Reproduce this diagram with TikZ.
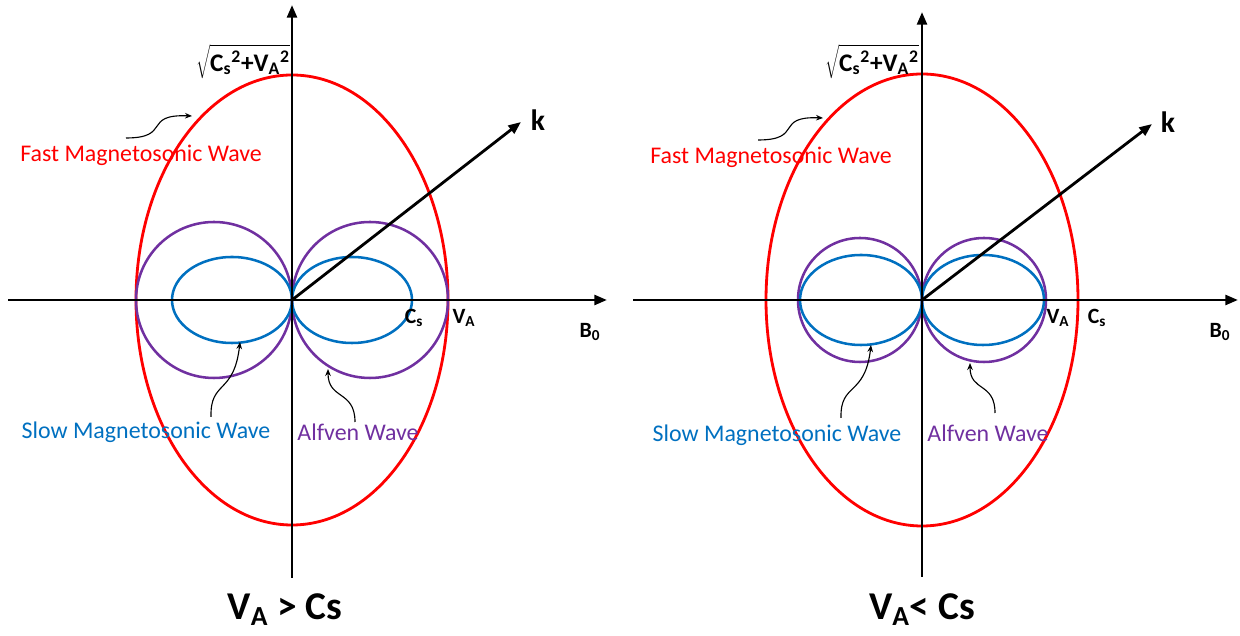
\documentclass[tikz,border=0pt]{standalone}
\usepackage{fontspec}
\setmainfont{Carlito}
\usetikzlibrary{arrows.meta}
\definecolor{fastred}{RGB}{255,0,0}
\definecolor{slowblue}{RGB}{0,112,192}
\definecolor{alfpurple}{RGB}{112,48,160}

\tikzset{
  axisline/.style={line width=2pt, -{Triangle[length=9pt,width=7pt]}},
  fastwave/.style={draw=fastred, line width=2pt},
  slowwave/.style={draw=slowblue, line width=1.8pt},
  alfwave/.style={draw=alfpurple, line width=1.8pt},
  pointer/.style={line width=0.8pt, -{Stealth[length=5pt,width=4pt]}},
  wavelbl/.style={font=\fontsize{17}{19}\selectfont, inner sep=0pt},
  ticklbl/.style={font=\bfseries\fontsize{15.5}{17}\selectfont, inner sep=0pt},
  klbl/.style={font=\bfseries\fontsize{21}{23}\selectfont, inner sep=0pt},
  rootlbl/.style={font=\bfseries\fontsize{18}{20}\selectfont, inner sep=0pt, anchor=east},
  caselbl/.style={font=\bfseries\fontsize{28}{32}\selectfont, inner sep=0pt}
}

\begin{document}
\begin{tikzpicture}[x=0.025cm, y=0.025cm]
  \useasboundingbox (0,0) rectangle (1240,636);

  % V_A > Cs
  \begin{scope}[shift={(292,336)}]
    \draw[fastwave] (0,0) ellipse [x radius=156, y radius=225];
    \draw[alfwave] (-78,0) circle [radius=78];
    \draw[alfwave] (78,0) circle [radius=78];
    \draw[slowwave] (-60,0) ellipse [x radius=60, y radius=43];
    \draw[slowwave] (60,0) ellipse [x radius=60, y radius=43];
    \draw[axisline] (-284,0) -- (315,0);
    \draw[axisline] (0,-278) -- (0,295);
    \draw[axisline] (0,0) -- (229,178);

    \node[klbl] (kL) at (246,180) {k};
    \node[rootlbl] (rootL) at (-2,238) {$\sqrt{\mbox{C\textsubscript{s}\textsuperscript{2}+V\textsubscript{A}\textsuperscript{2}}}$};
    \node[ticklbl] (csL) at (122,-18) {C\textsubscript{s}};
    \node[ticklbl] (vaL) at (172,-18) {V\textsubscript{A}};
    \node[ticklbl] (bL) at (298,-32) {B\textsubscript{0}};
    \node[wavelbl, text=fastred, anchor=west] (fastL) at (-272,145) {Fast Magnetosonic Wave};
    \node[wavelbl, text=slowblue] (slowL) at (-146,-132) {Slow Magnetosonic Wave};
    \node[wavelbl, text=alfpurple] (alfL) at (66,-132) {Alfven Wave};
    \node[caselbl] (caseL) at (-7,-310) {V\textsubscript{A} > Cs};

    \coordinate (fastLs) at (-166,162);
    \coordinate (fastLe) at (-100,184);
    \coordinate (slowLs) at (-81,-117);
    \coordinate (slowLe) at (-52,-42);
    \coordinate (alfLs) at (63,-122);
    \coordinate (alfLe) at (36,-69);
    \draw[pointer] (fastLs) .. controls (-120,162) and (-150,186) .. (fastLe);
    \draw[pointer] (slowLs) .. controls (-82,-80) and (-58,-95) .. (slowLe);
    \draw[pointer] (alfLs) .. controls (63,-90) and (36,-100) .. (alfLe);
  \end{scope}

  % V_A < Cs
  \begin{scope}[shift={(922,336)}]
    \draw[fastwave] (0,0) ellipse [x radius=156, y radius=226];
    \draw[alfwave] (-62,0) circle [radius=62];
    \draw[alfwave] (62,0) circle [radius=62];
    \draw[slowwave] (-61,0) ellipse [x radius=61, y radius=45];
    \draw[slowwave] (61,0) ellipse [x radius=61, y radius=45];
    \draw[axisline] (-289,0) -- (316,0);
    \draw[axisline] (0,-277) -- (0,288);
    \draw[axisline] (0,0) -- (230,176);

    \node[klbl] (kR) at (246,178) {k};
    \node[rootlbl] (rootR) at (-3,238) {$\sqrt{\mbox{C\textsubscript{s}\textsuperscript{2}+V\textsubscript{A}\textsuperscript{2}}}$};
    \node[ticklbl] (vaR) at (136,-18) {V\textsubscript{A}};
    \node[ticklbl] (csR) at (175,-18) {C\textsubscript{s}};
    \node[ticklbl] (bR) at (298,-32) {B\textsubscript{0}};
    \node[wavelbl, text=fastred, anchor=west] (fastR) at (-272,143) {Fast Magnetosonic Wave};
    \node[wavelbl, text=slowblue] (slowR) at (-145,-135) {Slow Magnetosonic Wave};
    \node[wavelbl, text=alfpurple] (alfR) at (66,-133) {Alfven Wave};
    \node[caselbl] (caseR) at (0,-310) {V\textsubscript{A}< Cs};

    \coordinate (fastRs) at (-164,160);
    \coordinate (fastRe) at (-99,182);
    \coordinate (slowRs) at (-81,-118);
    \coordinate (slowRe) at (-51,-45);
    \coordinate (alfRs) at (73,-113);
    \coordinate (alfRe) at (48,-63);
    \draw[pointer] (fastRs) .. controls (-118,160) and (-148,184) .. (fastRe);
    \draw[pointer] (slowRs) .. controls (-82,-82) and (-57,-97) .. (slowRe);
    \draw[pointer] (alfRs) .. controls (73,-82) and (48,-92) .. (alfRe);
  \end{scope}
\end{tikzpicture}
\end{document}
